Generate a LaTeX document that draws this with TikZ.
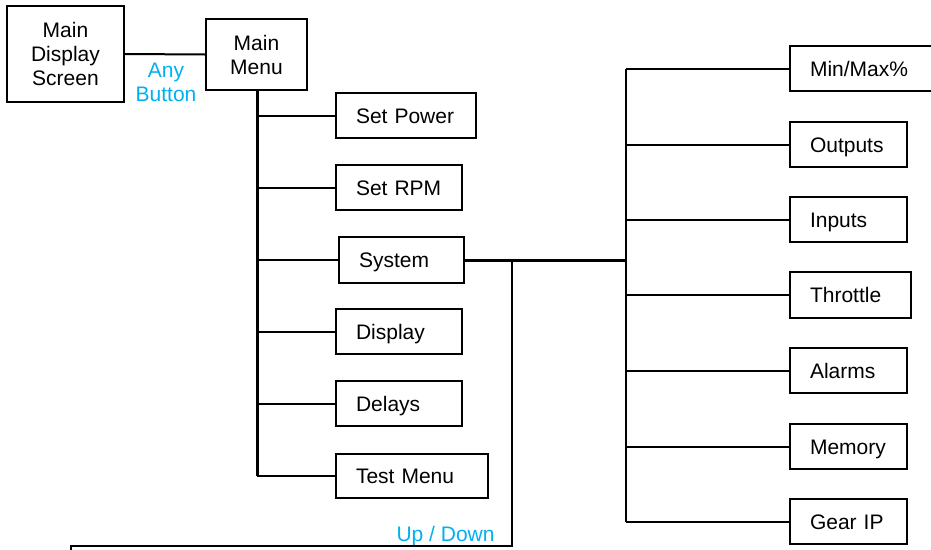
\documentclass[tikz,border=0pt]{standalone}
\usepackage{fontspec}
\setmainfont{Liberation Sans}
\definecolor{cy}{RGB}{0,176,240}
\begin{document}
\begin{tikzpicture}[x=1pt,y=-1pt,
  font=\fontsize{21}{24}\selectfont,
  box/.style={draw, line width=2pt, inner xsep=20pt, inner ysep=0pt, text height=15pt, text depth=0pt, align=left, anchor=north west},
  cbox/.style={draw, line width=2pt, inner sep=0pt, align=center, anchor=north west},
  ln/.style={line width=2pt},
  thickln/.style={line width=3pt},
  lbl/.style={text=cy, align=center}]
\useasboundingbox (0,0) rectangle (931,549);
\clip (0,0) rectangle (931,549);
% left part
\node[cbox, minimum width=117pt, minimum height=96pt] (mds) at (6,5) {Main\\Display\\Screen};
\node[cbox, minimum width=101pt, minimum height=71pt] (mm) at (205,18) {Main\\Menu};
\node[box, minimum width=140pt, minimum height=45pt, text width=100pt] (sp) at (335,92) {Set Power};
\node[box, minimum width=126pt, minimum height=45pt, text width=86pt] (rpm) at (335,164) {Set RPM};
\node[box, minimum width=125pt, minimum height=46pt, text width=85pt] (sys) at (338,236) {System};
\node[box, minimum width=126pt, minimum height=45pt, text width=86pt] (disp) at (335,308) {Display};
\node[box, minimum width=126pt, minimum height=45pt, text width=86pt] (del) at (335,380) {Delays};
\node[box, minimum width=152pt, minimum height=44pt, text width=112pt] (test) at (335,453) {Test Menu};
% right part
\node[box, minimum width=150pt, minimum height=45pt, text width=110pt] (minmax) at (789,45) {Min/Max\%};
\node[box, minimum width=117pt, minimum height=45pt, text width=77pt] (outp) at (789,121) {Outputs};
\node[box, minimum width=117pt, minimum height=45pt, text width=77pt] (inp) at (789,196) {Inputs};
\node[box, minimum width=121pt, minimum height=46pt, text width=81pt] (thr) at (789,271) {Throttle};
\node[box, minimum width=117pt, minimum height=45pt, text width=77pt] (alm) at (789,347) {Alarms};
\node[box, minimum width=117pt, minimum height=45pt, text width=77pt] (mem) at (789,423) {Memory};
\node[box, minimum width=117pt, minimum height=45pt, text width=77pt] (gear) at (789,498) {Gear IP};
% labels
\node[lbl] (anyb) at (166,82) {Any\\Button};
\node[lbl, anchor=base west] (updown) at (393,541) {Up / Down};
% coordinates
\coordinate (mt) at (257,0);
\coordinate (rt) at (626,0);
\coordinate (ud) at (512,546);
\coordinate (bl) at (71,560);
% connectors
\draw[ln] (mds.east) -- (mm.west);
\draw[thickln] (mm.south -| mt) -- (test.west -| mt);
\foreach \n in {sp,rpm,sys,disp,del,test}
  \draw[ln] (\n.west -| mt) -- (\n.west);
\draw[thickln] (sys.east) -- (sys.east -| rt);
\draw[ln] (minmax.west -| rt) -- (gear.west -| rt);
\foreach \n in {minmax,outp,inp,thr,alm,mem,gear}
  \draw[ln] (\n.west -| rt) -- (\n.west);
\draw[ln] (sys.east -| ud) -- (ud) -- (ud -| bl) -- (bl);
\end{tikzpicture}
\end{document}
